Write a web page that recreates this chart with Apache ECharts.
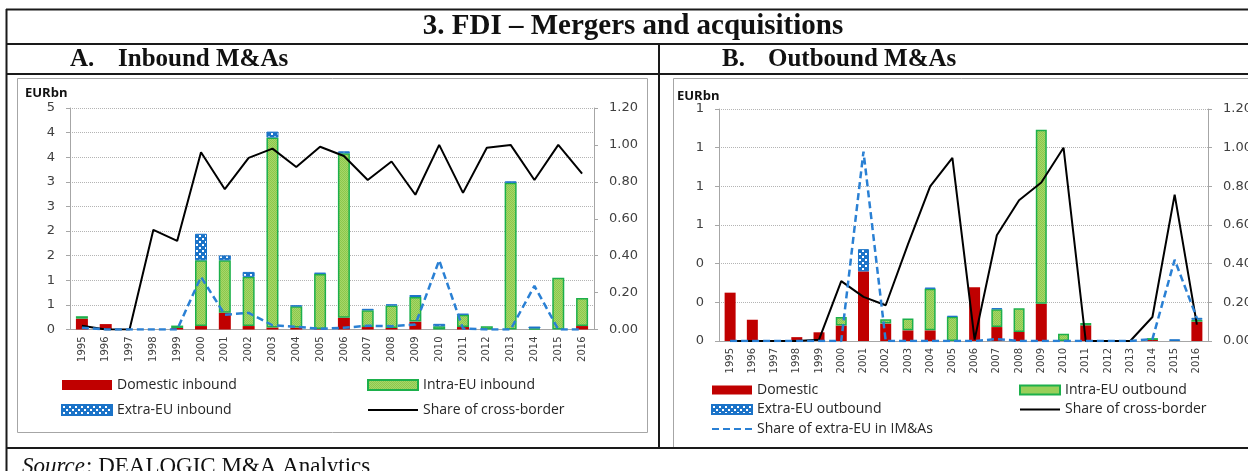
<!DOCTYPE html>
<html>
<head>
<meta charset="utf-8">
<script src="https://cdn.jsdelivr.net/npm/echarts@6/dist/echarts.min.js"></script>
<style>
  html, body { margin: 0; padding: 0; background: #fff; }
  #chart { width: 1248px; height: 471px; }
</style>
</head>
<body>
<div id="chart"></div>
<script>
// Years on the category axis (both panels)
const years = ['1995','1996','1997','1998','1999','2000','2001','2002','2003','2004','2005',
               '2006','2007','2008','2009','2010','2011','2012','2013','2014','2015','2016'];

// Panel A - inbound M&As, EUR bn
const inDomestic = [0.22,0.11,0,0,0.03,0.07,0.34,0.07,0.04,0.04,0.01,0.24,0.05,0.03,0.16,0,0.05,0,0,0,0,0.07];
const inIntraEU  = [0.05,0,0,0,0.05,1.335,1.065,1.0,3.86,0.43,1.12,3.34,0.34,0.46,0.50,0.065,0.25,0.065,2.98,0.02,1.05,0.57];
const inExtraEU  = [0,0,0,0,0,0.54,0.10,0.10,0.12,0.02,0.025,0.04,0.03,0.02,0.04,0.05,0.02,0,0.03,0.04,0,0];
// Panel A - shares (right axis)
const inCrossShare = [0.02,0,0,0.54,0.48,0.96,0.76,0.93,0.98,0.88,0.99,0.94,0.81,0.91,0.73,1.0,0.74,0.985,1.0,0.81,1.0,0.845];
const inExtraShare = [0.01,0,0,0,0,0.285,0.08,0.09,0.023,0.015,0.004,0.01,0.02,0.018,0.027,0.375,0.005,0,0,0.236,0,0];

// Panel B - outbound M&As, EUR bn
const outDomestic = [0.25,0.11,0,0.02,0.045,0.08,0.36,0.09,0.055,0.055,0,0.278,0.072,0.047,0.193,0,0.081,0,0,0.005,0,0.10];
const outIntraEU  = [0,0,0,0,0,0.044,0,0.022,0.062,0.215,0.125,0,0.092,0.122,0.90,0.038,0.012,0,0,0.01,0,0.01];
const outExtraEU  = [0,0,0,0,0,0,0.115,0,0,0.006,0.005,0,0.006,0,0,0,0,0,0,0,0.009,0.01];
// Panel B - shares (right axis)
const outCrossShare = [0,0,0,0,0.007,0.31,0.228,0.185,0.50,0.80,0.947,0.007,0.547,0.728,0.82,1.0,0,0,0,0.124,0.757,0.085];
const outExtraShare = [0,0,0,0,0,0,0.98,0,0,0,0,0,0.01,0,0,0,0,0,0,0.01,0.42,0.118];

// Axis tick values
const leftMaxA = 4.5, leftStepA = 0.5;
const leftMaxB = 1.2, leftStepB = 0.2;
const shareMax = 1.2, shareStep = 0.2;

// Small tiled fills for the hatched bar segments
function tile(w, h, paint) {
  const c = document.createElement('canvas');
  c.width = w; c.height = h;
  paint(c.getContext('2d'));
  return { image: c, repeat: 'repeat' };
}
const greenFill = tile(2, 2, g => {
  g.fillStyle = '#A6D66A'; g.fillRect(0, 0, 2, 2);
  g.fillStyle = '#8CC84B'; g.fillRect(0, 0, 1, 1); g.fillRect(1, 1, 1, 1);
});
const blueFill = tile(6, 6, g => {
  g.fillStyle = '#1B73C8'; g.fillRect(0, 0, 6, 6);
  g.fillStyle = '#ffffff'; g.fillRect(1, 1, 2, 2); g.fillRect(4, 4, 2, 2);
});

const nz = arr => arr.map(v => (v === 0 ? null : v));

const RED = '#C00000', GREEN_EDGE = '#1DB04B', BLUE_EDGE = '#1B73C8', DASH_BLUE = '#2A80D4';
const GRAY = '#a6a6a6', LABEL = '#404040';
const tickFont = 'DejaVu Sans';

function catAxis(gi) {
  return {
    type: 'category', gridIndex: gi, data: years,
    axisLine: { lineStyle: { color: GRAY, width: 1 } },
    axisTick: { length: 5, lineStyle: { color: GRAY } },
    axisLabel: { rotate: 90, interval: 0, fontSize: 10, fontFamily: tickFont, color: LABEL, margin: 7 }
  };
}
function valAxis(gi, pos, max, step, fmt, grid) {
  return {
    type: 'value', gridIndex: gi, position: pos, min: 0, max: max, interval: step,
    axisLine: { show: true, lineStyle: { color: GRAY, width: 1 } },
    axisTick: { show: true, length: 4, lineStyle: { color: GRAY } },
    splitLine: grid ? { show: true, lineStyle: { type: 'dotted', color: '#b4b4b4', width: 1 } } : { show: false },
    axisLabel: { formatter: fmt, fontSize: 13, fontFamily: tickFont, color: LABEL, margin: 15 }
  };
}
const roundFmt = v => String(Math.round(v));
const shareFmt = v => v.toFixed(2);

function barSeries(name, data, xi, yi, stack, style, width) {
  return { name, type: 'bar', xAxisIndex: xi, yAxisIndex: yi, stack, data: nz(data), barWidth: width, itemStyle: style };
}
function lineSeries(name, data, xi, yi, dashed) {
  return {
    name, type: 'line', xAxisIndex: xi, yAxisIndex: yi, data, symbol: 'none',
    lineStyle: dashed ? { color: DASH_BLUE, width: 2.5, type: [7, 4] } : { color: '#000', width: 2 },
    itemStyle: { color: dashed ? DASH_BLUE : '#000' }, z: 5
  };
}

const redStyle = { color: RED };
const greenStyle = { color: greenFill, borderColor: GREEN_EDGE, borderWidth: 1.5 };
const blueStyle = { color: blueFill, borderColor: BLUE_EDGE, borderWidth: 1 };

const legendText = { fontFamily: 'Open Sans', fontSize: 14, color: '#262626' };
function legend(left, top, gap, w, h, items) {
  return { left, top, orient: 'vertical', itemGap: gap, itemWidth: w, itemHeight: h,
           selectedMode: false, textStyle: legendText, padding: 0, data: items };
}
// legend entry for a line series: plain stroke, no marker
const lineItem = name => ({ name, itemStyle: { opacity: 0 } });
const boxItem = name => ({ name, icon: 'rect' });

const INK = '#1a1a1a';
function hline(x1, x2, y, w, c) { return { type: 'line', shape: { x1, y1: y, x2, y2: y }, style: { stroke: c || INK, lineWidth: w || 2 }, silent: true }; }
function vline(x, y1, y2, w, c) { return { type: 'line', shape: { x1: x, y1, x2: x, y2 }, style: { stroke: c || INK, lineWidth: w || 2 }, silent: true }; }
function label(x, y, text, font, align) {
  return { type: 'text', x, y, silent: true,
           style: { text, font, fill: '#111', textAlign: align || 'left', textVerticalAlign: 'middle' } };
}

const serifBold = (s) => 'bold ' + s + 'px "Liberation Serif"';

const option = {
  animation: false,
  backgroundColor: '#fff',
  grid: [
    { left: 70, top: 108, width: 524, height: 221.5, containLabel: false, outerBoundsMode: 'none' },
    { left: 719, top: 109, width: 489, height: 232, containLabel: false, outerBoundsMode: 'none' }
  ],
  xAxis: [catAxis(0), catAxis(1)],
  yAxis: [
    valAxis(0, 'left', leftMaxA, leftStepA, roundFmt, true),
    valAxis(0, 'right', shareMax, shareStep, shareFmt, false),
    valAxis(1, 'left', leftMaxB, leftStepB, roundFmt, true),
    valAxis(1, 'right', shareMax, shareStep, shareFmt, false)
  ],
  legend: [
    legend(61, 378, 11, 50, 10, [boxItem('Domestic inbound'), boxItem('Extra-EU inbound')]),
    legend(367, 378, 11, 50, 10, [boxItem('Intra-EU inbound'), lineItem('Share of cross-border')]),
    legend(711, 383, 5.5, 40, 9, [boxItem('Domestic'), boxItem('Extra-EU outbound'), lineItem('Share of extra-EU in IM&As')]),
    legend(1019, 383, 5.5, 40, 9, [boxItem('Intra-EU outbound'), lineItem('Share of cross-border')])
  ],
  series: [
    barSeries('Domestic inbound', inDomestic, 0, 0, 'in', redStyle, 12),
    barSeries('Intra-EU inbound', inIntraEU, 0, 0, 'in', greenStyle, 12),
    barSeries('Extra-EU inbound', inExtraEU, 0, 0, 'in', blueStyle, 12),
    lineSeries('Share of cross-border', inCrossShare, 0, 1, false),
    lineSeries('Share of extra-EU inbound', inExtraShare, 0, 1, true),

    barSeries('Domestic', outDomestic, 1, 2, 'out', redStyle, 11),
    barSeries('Intra-EU outbound', outIntraEU, 1, 2, 'out', greenStyle, 11),
    barSeries('Extra-EU outbound', outExtraEU, 1, 2, 'out', blueStyle, 11),
    lineSeries('Share of cross-border', outCrossShare, 1, 3, false),
    lineSeries('Share of extra-EU in IM&As', outExtraShare, 1, 3, true)
  ],
  graphic: [
    // chart frames
    { type: 'rect', shape: { x: 17.5, y: 78.5, width: 630, height: 354 }, style: { fill: 'none', stroke: GRAY, lineWidth: 1 }, silent: true, z: -1 },
    { type: 'rect', shape: { x: 673.5, y: 78.5, width: 600, height: 369 }, style: { fill: 'none', stroke: GRAY, lineWidth: 1 }, silent: true, z: -1 },
    // table rules
    hline(6, 1248, 9.5), hline(6, 1248, 44), hline(6, 1248, 74), hline(6, 1248, 448),
    vline(6.5, 9, 471), vline(659, 44, 448),
    // headings
    label(633, 27, '3. FDI \u2013 Mergers and acquisitions', serifBold(29), 'center'),
    label(70, 60, 'A.', serifBold(25)), label(118, 60, 'Inbound M&As', serifBold(25)),
    label(722, 60, 'B.', serifBold(25)), label(768, 60, 'Outbound M&As', serifBold(25)),
    label(25, 93, 'EURbn', 'bold 13px "Open Sans"'),
    label(677, 96, 'EURbn', 'bold 13px "Open Sans"'),
    // source line
    label(22, 467, 'Source', 'italic 23px "Liberation Serif"'),
    label(86, 467, ': DEALOGIC M&A Analytics', '23px "Liberation Serif"')
  ]
};

const chart = echarts.init(document.getElementById('chart'), null, { renderer: 'canvas' });
chart.setOption(option);
</script>
</body>
</html>
